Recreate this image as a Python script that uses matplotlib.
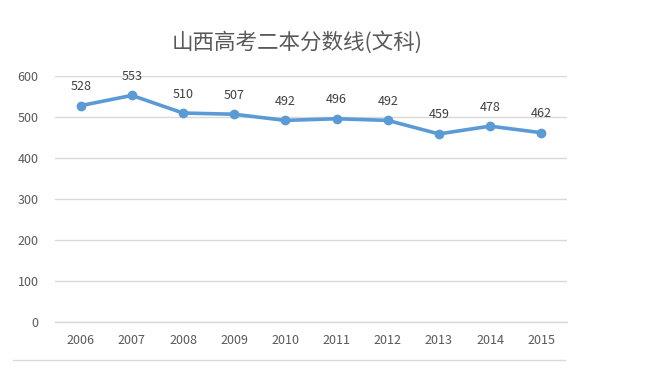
import matplotlib
matplotlib.use("Agg")
import matplotlib.pyplot as plt
from matplotlib.lines import Line2D

plt.rcParams['font.family'] = ['Noto Sans CJK SC', 'DejaVu Sans']

years = ['2006', '2007', '2008', '2009', '2010', '2011', '2012', '2013', '2014', '2015']
scores = [528, 553, 510, 507, 492, 496, 492, 459, 478, 462]
yticks = [0, 100, 200, 300, 400, 500, 600]

fig = plt.figure(figsize=(6.56, 3.77), dpi=100)
ax = fig.add_axes([0.084, 0.146, 0.780, 0.652])

x = list(range(len(years)))
ax.plot(x, scores, color='#5b9bd5', lw=2.6, marker='o', ms=6, zorder=3)
for xi, v in zip(x, scores):
    ax.annotate(str(v), (xi, v), xytext=(0, 9), textcoords='offset points',
                ha='center', va='bottom', fontsize=9, color='#404040')

ax.set_xlim(-0.5, len(years) - 0.5)
ax.set_ylim(0, 600)
ax.set_yticks(yticks)
ax.set_xticks(x)
ax.set_xticklabels(years)
ax.grid(axis='y', color='#d9d9d9', lw=1)
ax.set_axisbelow(True)
for s in ax.spines.values():
    s.set_visible(False)
ax.axhline(0, color='#d9d9d9', lw=1, clip_on=False, zorder=0)
ax.tick_params(length=0, labelsize=9, labelcolor='#595959')
ax.tick_params(axis='x', pad=9)
ax.tick_params(axis='y', pad=12)

fig.text(0.453, 0.888, '山西高考二本分数线(文科)', ha='center', va='center',
         fontsize=15.5, color='#595959')
fig.add_artist(Line2D([0.02, 0.862], [0.045, 0.045], color='#d9d9d9', lw=1))

fig.savefig('out.png', dpi=100)
